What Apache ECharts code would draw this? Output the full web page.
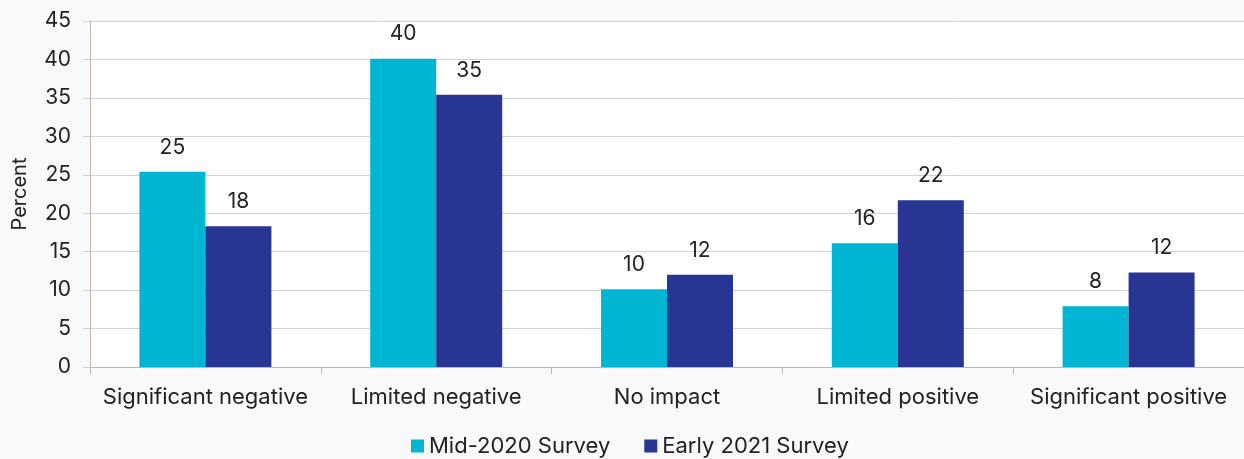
<!DOCTYPE html>
<html><head><meta charset="utf-8">
<script src="https://cdn.jsdelivr.net/npm/echarts@6/dist/echarts.min.js"></script>
<style>html,body{margin:0;padding:0;background:#f8f9fb;}#c{width:1244px;height:459px;}</style>
</head><body><div id="c"></div>
<script>
const categories = ['Significant negative','Limited negative','No impact','Limited positive','Significant positive'];
const mid2020 = [25.4, 40.1, 10.1, 16.1, 7.9];
const early2021 = [18.3, 35.4, 12.0, 21.7, 12.3];
const seriesNames = ['Mid-2020 Survey','Early 2021 Survey'];
const FONT = 'Inter';
const chart = echarts.init(document.getElementById('c'));
const lbl = {show:true, position:'top', distance:14, color:'#222', fontSize:21, fontFamily:FONT, formatter:p=>Math.round(p.value)};
chart.setOption({
  backgroundColor:'#f8f9fb',
  textStyle:{fontFamily:FONT},
  grid:{left:90, width:1158, top:21, bottom:92, show:true, backgroundColor:'#ffffff', borderWidth:0},
  legend:{top:430, left:406, itemWidth:13, itemHeight:13, itemGap:34, icon:'rect',
    textStyle:{fontSize:22, color:'#222', fontFamily:FONT}, data:seriesNames},
  xAxis:{type:'category', data:categories,
    axisLine:{lineStyle:{color:'#bdb8b4', width:1}},
    axisTick:{show:true, length:7, lineStyle:{color:'#bdb8b4'}},
    axisLabel:{interval:0, hideOverlap:false, fontSize:22, color:'#222', margin:19, fontFamily:FONT}},
  yAxis:{type:'value', min:0, max:45, interval:5, name:'Percent', nameLocation:'middle', nameGap:60,
    nameTextStyle:{fontSize:20, color:'#222', fontFamily:FONT},
    axisLine:{show:true, lineStyle:{color:'#bdb8b4'}},
    axisTick:{show:true, length:7, lineStyle:{color:'#d6d1cd'}},
    axisLabel:{fontSize:21, color:'#222', margin:19, fontFamily:FONT},
    splitLine:{lineStyle:{color:'#d6d1cd', width:1}}},
  series:[
    {name:seriesNames[0], type:'bar', data:mid2020, barWidth:66, barGap:'0%', itemStyle:{color:'#00b5d1'}, label:lbl},
    {name:seriesNames[1], type:'bar', data:early2021, barWidth:66, barGap:'0%', itemStyle:{color:'#283593'}, label:lbl}
  ]
});
</script></body></html>
